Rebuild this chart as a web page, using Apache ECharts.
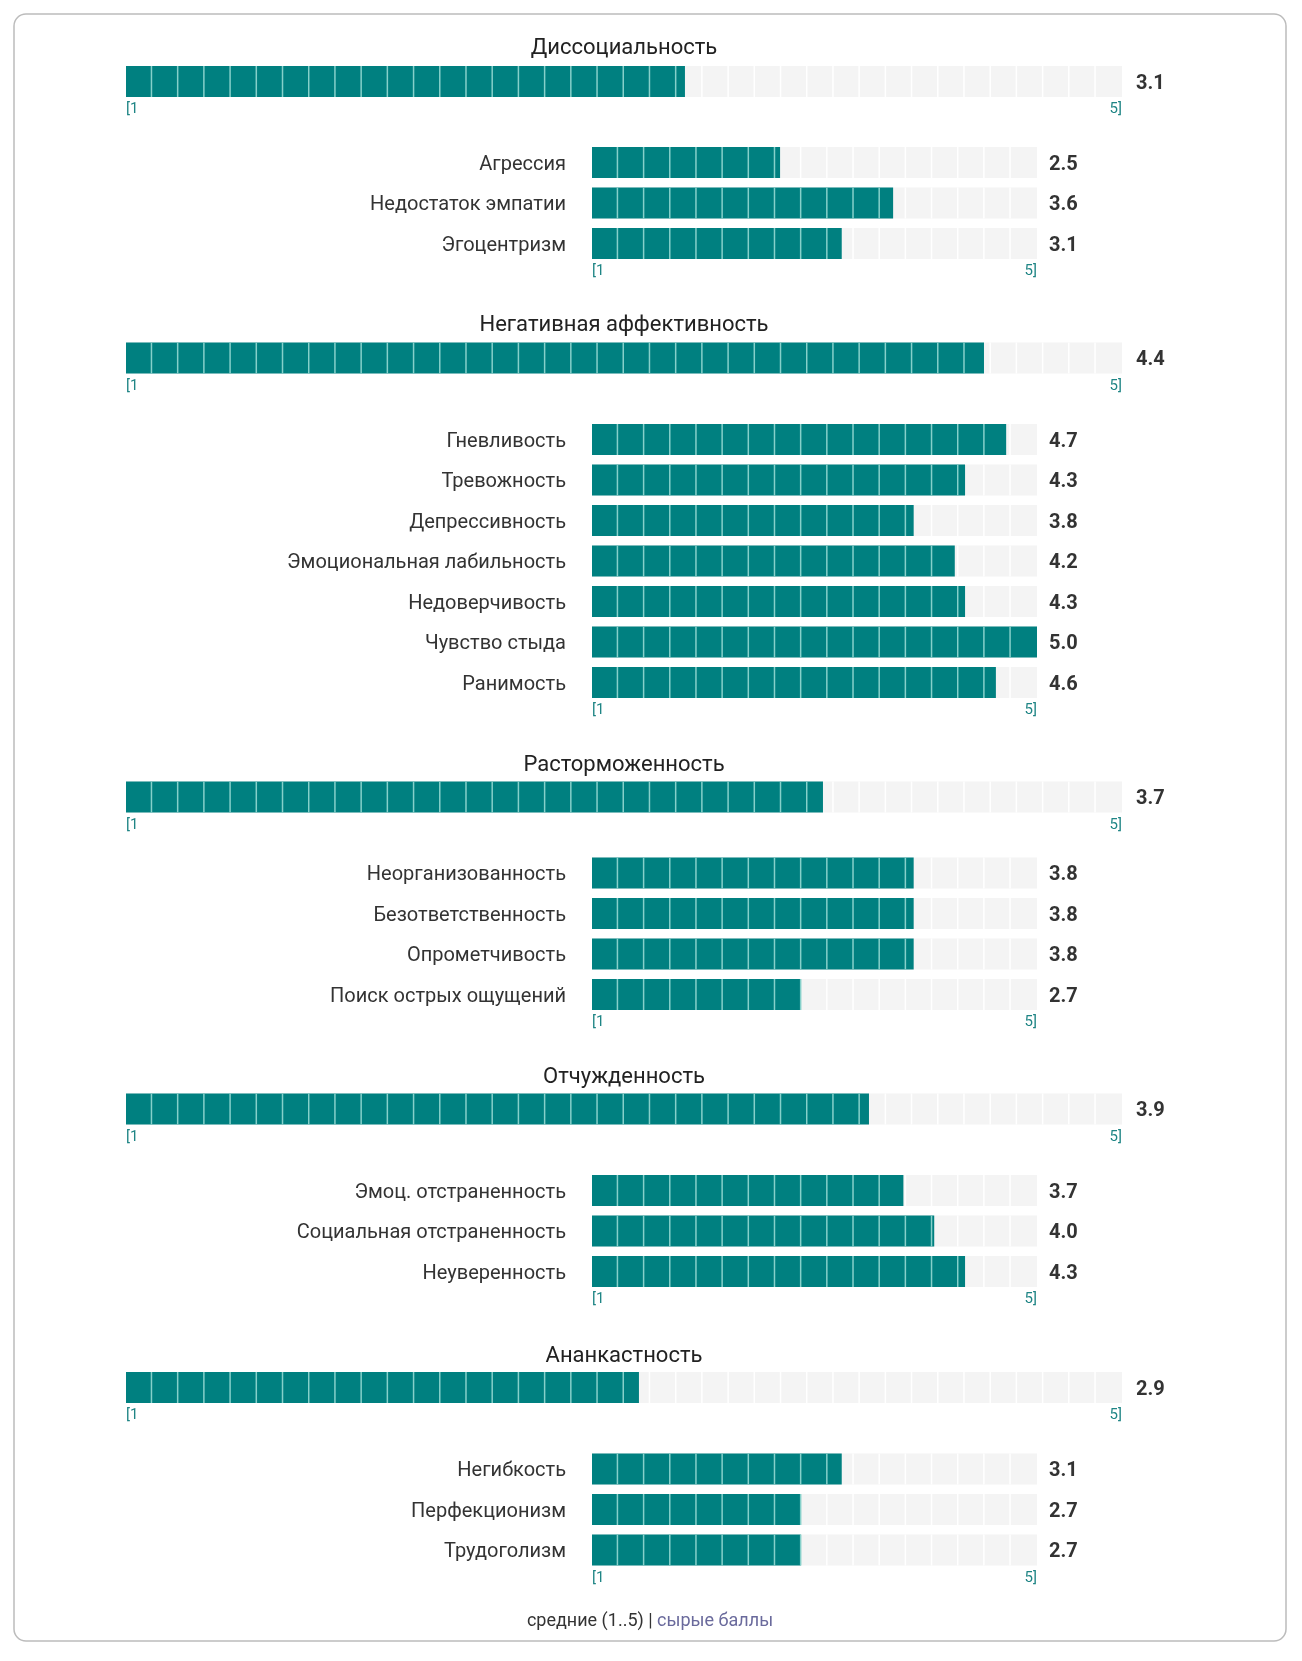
<!DOCTYPE html>
<html><head><meta charset="utf-8">
<script src="https://cdn.jsdelivr.net/npm/echarts@6/dist/echarts.min.js"></script>
<style>html,body{margin:0;padding:0;background:#fff}#c{width:1302px;height:1661px}</style>
</head><body><div id="c"></div>
<script>
// ---- data ----
const groupNames = ['Диссоциальность','Негативная аффективность','Расторможенность','Отчужденность','Ананкастность'];
const groupScores = [3.1, 4.4, 3.7, 3.9, 2.9];
const dissocNames = ['Агрессия','Недостаток эмпатии','Эгоцентризм'];
const dissocScores = [2.5, 3.6, 3.1];
const negAffNames = ['Гневливость','Тревожность','Депрессивность','Эмоциональная лабильность','Недоверчивость','Чувство стыда','Ранимость'];
const negAffScores = [4.7, 4.3, 3.8, 4.2, 4.3, 5.0, 4.6];
const disinhNames = ['Неорганизованность','Безответственность','Опрометчивость','Поиск острых ощущений'];
const disinhScores = [3.8, 3.8, 3.8, 2.7];
const detachNames = ['Эмоц. отстраненность','Социальная отстраненность','Неуверенность'];
const detachScores = [3.7, 4.0, 4.3];
const anankNames = ['Негибкость','Перфекционизм','Трудоголизм'];
const anankScores = [3.1, 2.7, 2.7];
const tickLabels = ['[1', '5]'];
const scaleMax = 5;
const footerMain = 'средние (1..5) | ';
const footerLink = 'сырые баллы';

const subNames = [dissocNames, negAffNames, disinhNames, detachNames, anankNames];
const subScores = [dissocScores, negAffScores, disinhScores, detachScores, anankScores];

// ---- layout / style ----
const AXIS_MIN = 0.67;
const FONT = 'Roboto, "Noto Sans", sans-serif';
const TEAL = '#008080', TRACK = '#f4f4f4', GAP_ON = '#86d0ca', GAP_OFF = '#ffffff';
const BAR_H = 31, ROW_H = 40.5;
const MAIN = {left: 126, width: 996, cells: 38, valueGap: 14};
const SUB = {left: 592, width: 445, cells: 17, valueGap: 12};
const titleY = [48, 325, 765.5, 1077, 1356];
const mainY = [81.5, 358, 797, 1109, 1387.5];
const subFirstY = [162.5, 439.5, 873, 1190.5, 1469];

function makeRender(cells, valueGap, lastIndex) {
  return function (params, api) {
    const v = api.value(0), i = api.value(1);
    const p0 = api.coord([AXIS_MIN, i]);
    const p1 = api.coord([scaleMax, i]);
    const pv = api.coord([v, i]);
    const y = p0[1] - BAR_H / 2;
    const children = [
      {type: 'rect', shape: {x: p0[0], y: y, width: p1[0] - p0[0], height: BAR_H}, style: {fill: TRACK}},
      {type: 'rect', shape: {x: p0[0], y: y, width: pv[0] - p0[0], height: BAR_H}, style: {fill: TEAL}}
    ];
    const pitch = (p1[0] - p0[0]) / cells;
    for (let k = 1; k < cells; k++) {
      const gx = p0[0] + k * pitch - 1.5;
      children.push({type: 'rect', shape: {x: gx, y: y, width: 1.5, height: BAR_H},
        style: {fill: gx < pv[0] ? GAP_ON : GAP_OFF}});
    }
    children.push({type: 'text', style: {text: v.toFixed(1), x: p1[0] + valueGap, y: p0[1] + 2,
      fill: '#333', font: 'bold 20px ' + FONT, align: 'left', verticalAlign: 'middle'}});
    if (params.dataIndex === lastIndex) {
      children.push({type: 'text', style: {text: tickLabels[0], x: p0[0], y: p0[1] + 28,
        fill: '#1f8585', font: '15px ' + FONT, align: 'left', verticalAlign: 'middle'}});
      children.push({type: 'text', style: {text: tickLabels[1], x: p1[0], y: p0[1] + 28,
        fill: '#1f8585', font: '15px ' + FONT, align: 'right', verticalAlign: 'middle'}});
    }
    return {type: 'group', children: children};
  };
}

const grid = [], xAxis = [], yAxis = [], series = [], graphic = [];
graphic.push({type: 'rect', shape: {x: 14, y: 14, width: 1272, height: 1627, r: 12},
  style: {fill: 'none', stroke: '#bcbcbc', lineWidth: 1.5}, silent: true});

groupNames.forEach((name, g) => {
  // title
  graphic.push({type: 'text', style: {text: name, x: MAIN.left + MAIN.width / 2, y: titleY[g],
    fill: '#222', font: '22px ' + FONT, align: 'center', verticalAlign: 'middle'}});
  // main bar
  let gi = grid.length;
  grid.push({left: MAIN.left, width: MAIN.width, top: mainY[g] - ROW_H / 2, height: ROW_H});
  xAxis.push({type: 'value', gridIndex: gi, min: AXIS_MIN, max: scaleMax, show: false});
  yAxis.push({type: 'category', gridIndex: gi, inverse: true, data: [name], show: false});
  series.push({type: 'custom', xAxisIndex: gi, yAxisIndex: gi, clip: false,
    renderItem: makeRender(MAIN.cells, MAIN.valueGap, 0),
    data: [[groupScores[g], 0]], encode: {x: 0, y: 1}});
  // sub bars
  const names = subNames[g], scores = subScores[g];
  gi = grid.length;
  grid.push({left: SUB.left, width: SUB.width, top: subFirstY[g] - ROW_H / 2, height: ROW_H * names.length});
  xAxis.push({type: 'value', gridIndex: gi, min: AXIS_MIN, max: scaleMax, show: false});
  yAxis.push({type: 'category', gridIndex: gi, inverse: true, data: names,
    axisLine: {show: false}, axisTick: {show: false}, splitLine: {show: false},
    axisLabel: {margin: 26, formatter: '{a|{value}}',
      rich: {a: {fontSize: 20, color: '#333', fontFamily: FONT, padding: [4, 0, 0, 0]}}}});
  series.push({type: 'custom', xAxisIndex: gi, yAxisIndex: gi, clip: false,
    renderItem: makeRender(SUB.cells, SUB.valueGap, names.length - 1),
    data: scores.map((v, i) => [v, i]), encode: {x: 0, y: 1}});
});

graphic.push({type: 'text', style: {
  text: '{a|' + footerMain + '}{b|' + footerLink + '}', x: 650, y: 1621,
  align: 'center', verticalAlign: 'middle',
  rich: {a: {fontSize: 18, fontFamily: FONT, fill: '#333', color: '#333'},
         b: {fontSize: 18, fontFamily: FONT, fill: '#6a6a9c', color: '#6a6a9c'}}}});

const chart = echarts.init(document.getElementById('c'), null, {renderer: 'canvas'});
chart.setOption({animation: false, grid, xAxis, yAxis, series, graphic});
</script>
</body></html>
